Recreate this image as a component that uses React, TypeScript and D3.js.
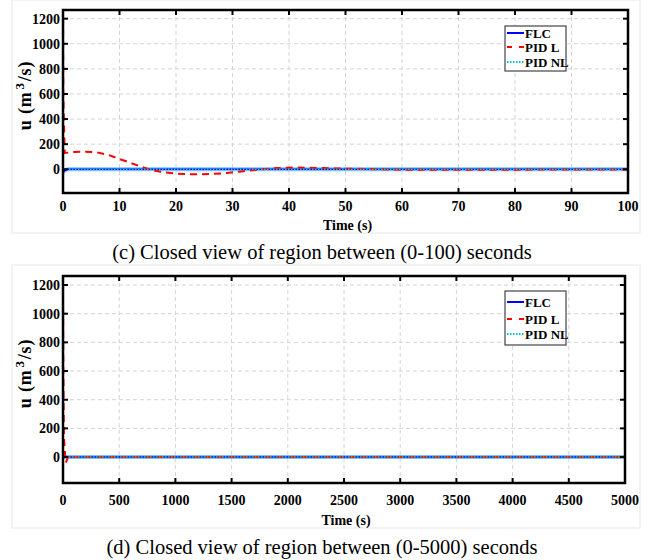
import React from "react";
import * as d3 from "d3";

// ---- data: panel (c) 0-100 s ----
const tC = [0, 0.05, 0.3, 1, 2, 4, 6, 8, 10, 12, 14, 15, 17, 20, 23, 26, 29, 32, 35, 38, 41, 45, 50, 55, 60, 70, 80, 90, 100];
const pidLC = [1400, 600, 130, 133, 138, 140, 135, 115, 82, 50, 18, 2, -18, -35, -40, -38, -30, -15, 0, 10, 14, 10, 5, 1, -3, -4, -3, -2, -1];
const tFlcC = [0, 0.3, 0.8, 100];
const flcC = [-25, -10, 0, 0];
const tNlC = [0, 100];
const pidNlC = [0, 0];
const xTicksC = [0, 10, 20, 30, 40, 50, 60, 70, 80, 90, 100];

// ---- data: panel (d) 0-5000 s ----
const tD = [0, 3, 8, 15, 25, 35, 50, 70, 100, 5000];
const pidLD = [1130, 600, 140, 60, -40, -20, 8, 0, 0, 0];
const tFlcD = [0, 5, 5000];
const flcD = [-10, 0, 0];
const tNlD = [0, 5000];
const pidNlD = [0, 0];
const xTicksD = [0, 500, 1000, 1500, 2000, 2500, 3000, 3500, 4000, 4500, 5000];

const yTicks = [0, 200, 400, 600, 800, 1000, 1200];
const legendNames = ["FLC", "PID L", "PID NL"];
const colors = ["#0000ff", "#ff0000", "#00cccc"];

const FONT = "'Liberation Serif', 'Times New Roman', serif";

type PanelProps = {
  top: number; bottom: number; left: number; right: number;
  xMax: number; yMin: number; yMax: number; xTicks: number[];
  tL: number[]; vL: number[]; tF: number[]; vF: number[]; tN: number[]; vN: number[];
  legend: { x: number; y: number; w: number; h: number; rows: number[] };
  frame: { y: number; h: number };
  caption: string; captionY: number; tickLabelY: number; titleY: number;
  id: string;
};

function Panel(p: PanelProps) {
  const x = d3.scaleLinear().domain([0, p.xMax]).range([p.left, p.right]);
  const y = d3.scaleLinear().domain([p.yMin, p.yMax]).range([p.bottom, p.top]);
  const line = (ts: number[], vs: number[]) =>
    d3.line<number>().x((_, i) => x(ts[i])).y((d) => y(d))(vs) || "";
  const tickLen = 5;
  return (
    <g>
      <rect x={12} y={p.frame.y} width={628} height={p.frame.h} fill="none" stroke="#efefef" strokeWidth={1.5} />
      <defs>
        <clipPath id={p.id}>
          <rect x={p.left} y={p.top} width={p.right - p.left} height={p.bottom - p.top} />
        </clipPath>
      </defs>
      {p.xTicks.slice(1, -1).map((t) => (
        <line key={"gx" + t} x1={x(t)} x2={x(t)} y1={p.top} y2={p.bottom} stroke="#d4d4d4" strokeDasharray="4,3" strokeWidth={1} />
      ))}
      {yTicks.map((t) => (
        <line key={"gy" + t} x1={p.left} x2={p.right} y1={y(t)} y2={y(t)} stroke="#d4d4d4" strokeDasharray="4,3" strokeWidth={1} />
      ))}
      <g clipPath={`url(#${p.id})`}>
        <path d={line(p.tF, p.vF)} fill="none" stroke="#4aa0ff" strokeWidth={4} opacity={0.7} />
        <path d={line(p.tF, p.vF)} fill="none" stroke={colors[0]} strokeWidth={1.5} />
        <path d={line(p.tL, p.vL)} fill="none" stroke={colors[1]} strokeWidth={2} strokeDasharray="7,5" />
        <path d={line(p.tN, p.vN)} fill="none" stroke={colors[2]} strokeWidth={1.5} strokeDasharray="1.5,1.5" />
      </g>
      {p.xTicks.map((t) => (
        <g key={"tx" + t}>
          <line x1={x(t)} x2={x(t)} y1={p.bottom} y2={p.bottom - tickLen} stroke="#000" strokeWidth={2} />
          <line x1={x(t)} x2={x(t)} y1={p.top} y2={p.top + tickLen} stroke="#000" strokeWidth={2} />
          <text x={x(t)} y={p.tickLabelY} textAnchor="middle" fontFamily={FONT} fontWeight="bold" fontSize={14}>{t}</text>
        </g>
      ))}
      {yTicks.map((t) => (
        <g key={"ty" + t}>
          <line x1={p.left} x2={p.left + tickLen} y1={y(t)} y2={y(t)} stroke="#000" strokeWidth={2} />
          <line x1={p.right} x2={p.right - tickLen} y1={y(t)} y2={y(t)} stroke="#000" strokeWidth={2} />
          <text x={p.left - 3} y={y(t) + 5} textAnchor="end" fontFamily={FONT} fontWeight="bold" fontSize={14}>{t}</text>
        </g>
      ))}
      <rect x={p.left} y={p.top} width={p.right - p.left} height={p.bottom - p.top} fill="none" stroke="#000" strokeWidth={2.5} />
      <text x={(p.left + p.right) / 2 + 2} y={p.titleY} textAnchor="middle" fontFamily={FONT} fontWeight="bold" fontSize={14}>Time (s)</text>
      <text transform={`translate(31,${(p.top + p.bottom) / 2 - 6}) rotate(-90)`} textAnchor="middle" fontFamily={FONT} fontWeight="bold" fontSize={18} letterSpacing={0.8}>
        u (m<tspan dy={-7} dx={2} fontSize={13}>3</tspan><tspan dy={7} dx={1}>/s)</tspan>
      </text>
      <rect x={p.legend.x} y={p.legend.y} width={p.legend.w} height={p.legend.h} fill="#fff" stroke="#444" strokeWidth={1.2} />
      {legendNames.map((n, i) => (
        <g key={n}>
          <line x1={p.legend.x + 2} x2={p.legend.x + 19} y1={p.legend.rows[i]} y2={p.legend.rows[i]} stroke={colors[i]}
            strokeWidth={2} strokeDasharray={i === 1 ? "5,7" : i === 2 ? "1.5,1.5" : undefined} />
          <text x={p.legend.x + 20} y={p.legend.rows[i] + 4.5} fontFamily={FONT} fontWeight="bold" fontSize={13}>{n}</text>
        </g>
      ))}
      <text x={322} y={p.captionY} textAnchor="middle" fontFamily={FONT} fontSize={20.5}>{p.caption}</text>
    </g>
  );
}

export default function App() {
  return (
    <svg width={651} height={560} style={{ position: "absolute", left: 0, top: 0, background: "#fff" }}>
      <rect x={0} y={0} width={651} height={560} fill="#fff" />
      <Panel id="clipC" top={10} bottom={193} left={63} right={628} xMax={100} yMin={-189} yMax={1269}
        xTicks={xTicksC} tL={tC} vL={pidLC} tF={tFlcC} vF={flcC} tN={tNlC} vN={pidNlC}
        legend={{ x: 505, y: 26, w: 61, h: 45, rows: [33, 47, 62] }}
        frame={{ y: 0, h: 233 }} caption="(c) Closed view of region between (0-100) seconds"
        captionY={259} tickLabelY={211} titleY={230} />
      <Panel id="clipD" top={276} bottom={483} left={63} right={625} xMax={5000} yMin={-181} yMax={1263}
        xTicks={xTicksD} tL={tD} vL={pidLD} tF={tFlcD} vF={flcD} tN={tNlD} vN={pidNlD}
        legend={{ x: 505, y: 291, w: 61, h: 54, rows: [302, 319, 334] }}
        frame={{ y: 265, h: 263 }} caption="(d) Closed view of region between (0-5000) seconds"
        captionY={554} tickLabelY={505} titleY={525} />
    </svg>
  );
}
